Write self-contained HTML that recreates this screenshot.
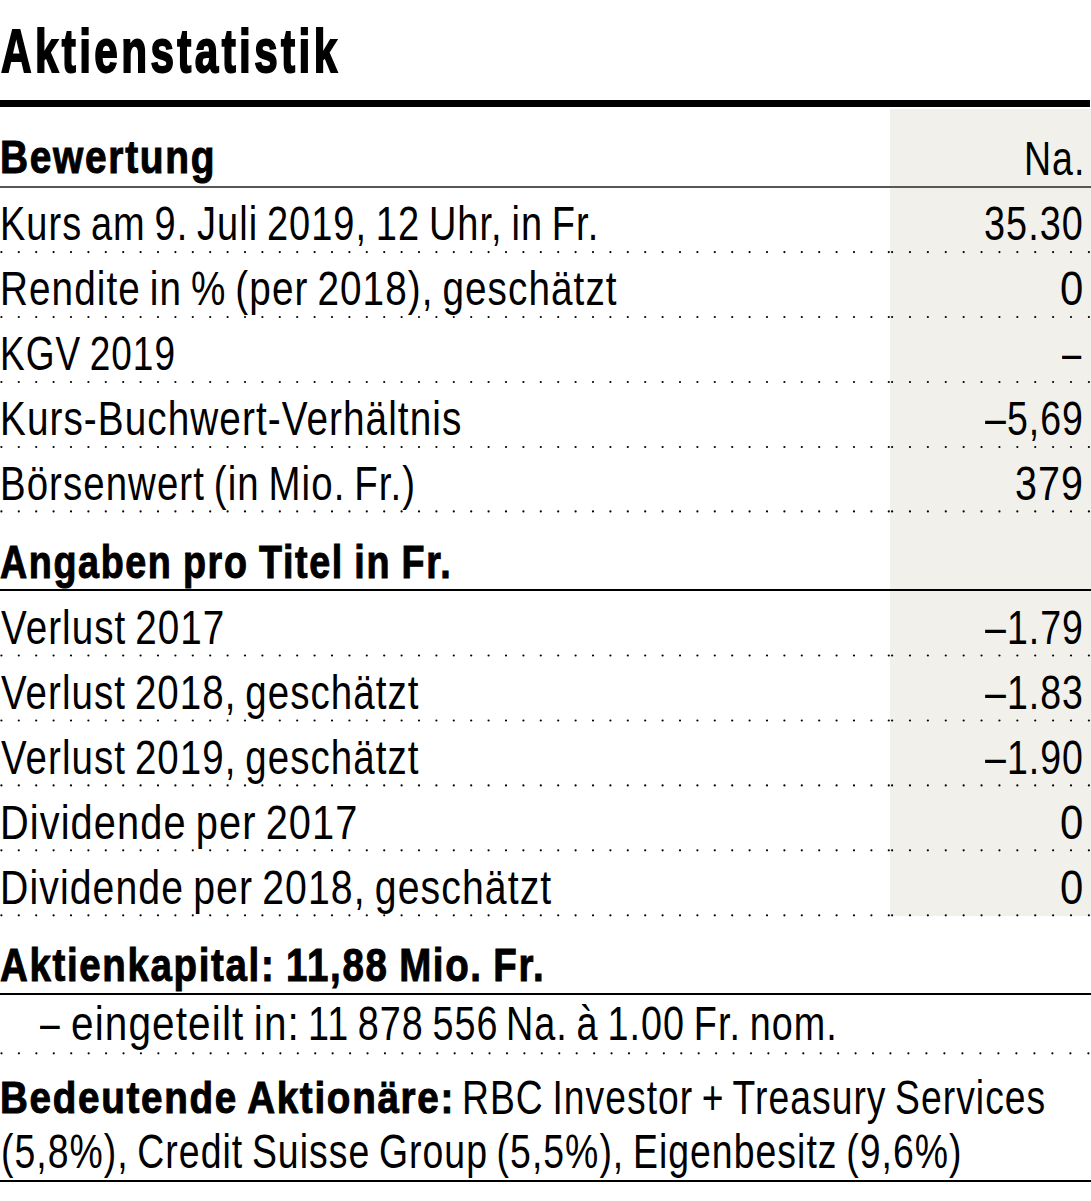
<!DOCTYPE html>
<html><head><meta charset="utf-8"><style>
html,body{margin:0;padding:0;background:#fff;}
body{width:1091px;height:1201px;position:relative;overflow:hidden;font-family:"Liberation Sans",sans-serif;color:#000;}
.t{position:absolute;white-space:pre;line-height:0;transform-origin:0 0;}
.r{position:absolute;}
</style></head><body>
<div class="r" style="left:890px;top:109px;width:201px;height:807px;background:#f1f0eb"></div>
<div class="r" style="left:0;top:100px;width:1090px;height:7px;background:#000"></div>
<div class="r" style="left:0;top:186px;width:1091px;height:2px;background:#575757"></div>
<div class="r" style="left:0;top:589.4px;width:1091px;height:1.6px;background:#000"></div>
<div class="r" style="left:0;top:993px;width:1091px;height:2px;background:#000"></div>
<div class="r" style="left:0;top:1180px;width:1091px;height:2px;background:#000"></div>
<svg width="1091" height="1201" style="position:absolute;left:0;top:0">
<g fill="#000"><circle cx="1.40" cy="252.1" r="1.1"/><circle cx="18.80" cy="252.1" r="1.1"/><circle cx="36.20" cy="252.1" r="1.1"/><circle cx="53.60" cy="252.1" r="1.1"/><circle cx="71.00" cy="252.1" r="1.1"/><circle cx="88.40" cy="252.1" r="1.1"/><circle cx="105.80" cy="252.1" r="1.1"/><circle cx="123.20" cy="252.1" r="1.1"/><circle cx="140.60" cy="252.1" r="1.1"/><circle cx="158.00" cy="252.1" r="1.1"/><circle cx="175.40" cy="252.1" r="1.1"/><circle cx="192.80" cy="252.1" r="1.1"/><circle cx="210.20" cy="252.1" r="1.1"/><circle cx="227.60" cy="252.1" r="1.1"/><circle cx="245.00" cy="252.1" r="1.1"/><circle cx="262.40" cy="252.1" r="1.1"/><circle cx="279.80" cy="252.1" r="1.1"/><circle cx="297.20" cy="252.1" r="1.1"/><circle cx="314.60" cy="252.1" r="1.1"/><circle cx="332.00" cy="252.1" r="1.1"/><circle cx="349.40" cy="252.1" r="1.1"/><circle cx="366.80" cy="252.1" r="1.1"/><circle cx="384.20" cy="252.1" r="1.1"/><circle cx="401.60" cy="252.1" r="1.1"/><circle cx="419.00" cy="252.1" r="1.1"/><circle cx="436.40" cy="252.1" r="1.1"/><circle cx="453.80" cy="252.1" r="1.1"/><circle cx="471.20" cy="252.1" r="1.1"/><circle cx="488.60" cy="252.1" r="1.1"/><circle cx="506.00" cy="252.1" r="1.1"/><circle cx="523.40" cy="252.1" r="1.1"/><circle cx="540.80" cy="252.1" r="1.1"/><circle cx="558.20" cy="252.1" r="1.1"/><circle cx="575.60" cy="252.1" r="1.1"/><circle cx="593.00" cy="252.1" r="1.1"/><circle cx="610.40" cy="252.1" r="1.1"/><circle cx="627.80" cy="252.1" r="1.1"/><circle cx="645.20" cy="252.1" r="1.1"/><circle cx="662.60" cy="252.1" r="1.1"/><circle cx="680.00" cy="252.1" r="1.1"/><circle cx="697.40" cy="252.1" r="1.1"/><circle cx="714.80" cy="252.1" r="1.1"/><circle cx="732.20" cy="252.1" r="1.1"/><circle cx="749.60" cy="252.1" r="1.1"/><circle cx="767.00" cy="252.1" r="1.1"/><circle cx="784.40" cy="252.1" r="1.1"/><circle cx="801.80" cy="252.1" r="1.1"/><circle cx="819.20" cy="252.1" r="1.1"/><circle cx="836.60" cy="252.1" r="1.1"/><circle cx="854.00" cy="252.1" r="1.1"/><circle cx="871.40" cy="252.1" r="1.1"/><circle cx="888.80" cy="252.1" r="1.1"/><circle cx="892.10" cy="252.1" r="1.1"/><circle cx="909.99" cy="252.1" r="1.1"/><circle cx="927.88" cy="252.1" r="1.1"/><circle cx="945.77" cy="252.1" r="1.1"/><circle cx="963.66" cy="252.1" r="1.1"/><circle cx="981.55" cy="252.1" r="1.1"/><circle cx="999.44" cy="252.1" r="1.1"/><circle cx="1017.33" cy="252.1" r="1.1"/><circle cx="1035.22" cy="252.1" r="1.1"/><circle cx="1053.11" cy="252.1" r="1.1"/><circle cx="1071.00" cy="252.1" r="1.1"/><circle cx="1088.89" cy="252.1" r="1.1"/></g>
<g fill="#000"><circle cx="1.40" cy="317" r="1.1"/><circle cx="18.80" cy="317" r="1.1"/><circle cx="36.20" cy="317" r="1.1"/><circle cx="53.60" cy="317" r="1.1"/><circle cx="71.00" cy="317" r="1.1"/><circle cx="88.40" cy="317" r="1.1"/><circle cx="105.80" cy="317" r="1.1"/><circle cx="123.20" cy="317" r="1.1"/><circle cx="140.60" cy="317" r="1.1"/><circle cx="158.00" cy="317" r="1.1"/><circle cx="175.40" cy="317" r="1.1"/><circle cx="192.80" cy="317" r="1.1"/><circle cx="210.20" cy="317" r="1.1"/><circle cx="227.60" cy="317" r="1.1"/><circle cx="245.00" cy="317" r="1.1"/><circle cx="262.40" cy="317" r="1.1"/><circle cx="279.80" cy="317" r="1.1"/><circle cx="297.20" cy="317" r="1.1"/><circle cx="314.60" cy="317" r="1.1"/><circle cx="332.00" cy="317" r="1.1"/><circle cx="349.40" cy="317" r="1.1"/><circle cx="366.80" cy="317" r="1.1"/><circle cx="384.20" cy="317" r="1.1"/><circle cx="401.60" cy="317" r="1.1"/><circle cx="419.00" cy="317" r="1.1"/><circle cx="436.40" cy="317" r="1.1"/><circle cx="453.80" cy="317" r="1.1"/><circle cx="471.20" cy="317" r="1.1"/><circle cx="488.60" cy="317" r="1.1"/><circle cx="506.00" cy="317" r="1.1"/><circle cx="523.40" cy="317" r="1.1"/><circle cx="540.80" cy="317" r="1.1"/><circle cx="558.20" cy="317" r="1.1"/><circle cx="575.60" cy="317" r="1.1"/><circle cx="593.00" cy="317" r="1.1"/><circle cx="610.40" cy="317" r="1.1"/><circle cx="627.80" cy="317" r="1.1"/><circle cx="645.20" cy="317" r="1.1"/><circle cx="662.60" cy="317" r="1.1"/><circle cx="680.00" cy="317" r="1.1"/><circle cx="697.40" cy="317" r="1.1"/><circle cx="714.80" cy="317" r="1.1"/><circle cx="732.20" cy="317" r="1.1"/><circle cx="749.60" cy="317" r="1.1"/><circle cx="767.00" cy="317" r="1.1"/><circle cx="784.40" cy="317" r="1.1"/><circle cx="801.80" cy="317" r="1.1"/><circle cx="819.20" cy="317" r="1.1"/><circle cx="836.60" cy="317" r="1.1"/><circle cx="854.00" cy="317" r="1.1"/><circle cx="871.40" cy="317" r="1.1"/><circle cx="888.80" cy="317" r="1.1"/><circle cx="892.10" cy="317" r="1.1"/><circle cx="909.99" cy="317" r="1.1"/><circle cx="927.88" cy="317" r="1.1"/><circle cx="945.77" cy="317" r="1.1"/><circle cx="963.66" cy="317" r="1.1"/><circle cx="981.55" cy="317" r="1.1"/><circle cx="999.44" cy="317" r="1.1"/><circle cx="1017.33" cy="317" r="1.1"/><circle cx="1035.22" cy="317" r="1.1"/><circle cx="1053.11" cy="317" r="1.1"/><circle cx="1071.00" cy="317" r="1.1"/><circle cx="1088.89" cy="317" r="1.1"/></g>
<g fill="#000"><circle cx="1.40" cy="382" r="1.1"/><circle cx="18.80" cy="382" r="1.1"/><circle cx="36.20" cy="382" r="1.1"/><circle cx="53.60" cy="382" r="1.1"/><circle cx="71.00" cy="382" r="1.1"/><circle cx="88.40" cy="382" r="1.1"/><circle cx="105.80" cy="382" r="1.1"/><circle cx="123.20" cy="382" r="1.1"/><circle cx="140.60" cy="382" r="1.1"/><circle cx="158.00" cy="382" r="1.1"/><circle cx="175.40" cy="382" r="1.1"/><circle cx="192.80" cy="382" r="1.1"/><circle cx="210.20" cy="382" r="1.1"/><circle cx="227.60" cy="382" r="1.1"/><circle cx="245.00" cy="382" r="1.1"/><circle cx="262.40" cy="382" r="1.1"/><circle cx="279.80" cy="382" r="1.1"/><circle cx="297.20" cy="382" r="1.1"/><circle cx="314.60" cy="382" r="1.1"/><circle cx="332.00" cy="382" r="1.1"/><circle cx="349.40" cy="382" r="1.1"/><circle cx="366.80" cy="382" r="1.1"/><circle cx="384.20" cy="382" r="1.1"/><circle cx="401.60" cy="382" r="1.1"/><circle cx="419.00" cy="382" r="1.1"/><circle cx="436.40" cy="382" r="1.1"/><circle cx="453.80" cy="382" r="1.1"/><circle cx="471.20" cy="382" r="1.1"/><circle cx="488.60" cy="382" r="1.1"/><circle cx="506.00" cy="382" r="1.1"/><circle cx="523.40" cy="382" r="1.1"/><circle cx="540.80" cy="382" r="1.1"/><circle cx="558.20" cy="382" r="1.1"/><circle cx="575.60" cy="382" r="1.1"/><circle cx="593.00" cy="382" r="1.1"/><circle cx="610.40" cy="382" r="1.1"/><circle cx="627.80" cy="382" r="1.1"/><circle cx="645.20" cy="382" r="1.1"/><circle cx="662.60" cy="382" r="1.1"/><circle cx="680.00" cy="382" r="1.1"/><circle cx="697.40" cy="382" r="1.1"/><circle cx="714.80" cy="382" r="1.1"/><circle cx="732.20" cy="382" r="1.1"/><circle cx="749.60" cy="382" r="1.1"/><circle cx="767.00" cy="382" r="1.1"/><circle cx="784.40" cy="382" r="1.1"/><circle cx="801.80" cy="382" r="1.1"/><circle cx="819.20" cy="382" r="1.1"/><circle cx="836.60" cy="382" r="1.1"/><circle cx="854.00" cy="382" r="1.1"/><circle cx="871.40" cy="382" r="1.1"/><circle cx="888.80" cy="382" r="1.1"/><circle cx="892.10" cy="382" r="1.1"/><circle cx="909.99" cy="382" r="1.1"/><circle cx="927.88" cy="382" r="1.1"/><circle cx="945.77" cy="382" r="1.1"/><circle cx="963.66" cy="382" r="1.1"/><circle cx="981.55" cy="382" r="1.1"/><circle cx="999.44" cy="382" r="1.1"/><circle cx="1017.33" cy="382" r="1.1"/><circle cx="1035.22" cy="382" r="1.1"/><circle cx="1053.11" cy="382" r="1.1"/><circle cx="1071.00" cy="382" r="1.1"/><circle cx="1088.89" cy="382" r="1.1"/></g>
<g fill="#000"><circle cx="1.40" cy="447" r="1.1"/><circle cx="18.80" cy="447" r="1.1"/><circle cx="36.20" cy="447" r="1.1"/><circle cx="53.60" cy="447" r="1.1"/><circle cx="71.00" cy="447" r="1.1"/><circle cx="88.40" cy="447" r="1.1"/><circle cx="105.80" cy="447" r="1.1"/><circle cx="123.20" cy="447" r="1.1"/><circle cx="140.60" cy="447" r="1.1"/><circle cx="158.00" cy="447" r="1.1"/><circle cx="175.40" cy="447" r="1.1"/><circle cx="192.80" cy="447" r="1.1"/><circle cx="210.20" cy="447" r="1.1"/><circle cx="227.60" cy="447" r="1.1"/><circle cx="245.00" cy="447" r="1.1"/><circle cx="262.40" cy="447" r="1.1"/><circle cx="279.80" cy="447" r="1.1"/><circle cx="297.20" cy="447" r="1.1"/><circle cx="314.60" cy="447" r="1.1"/><circle cx="332.00" cy="447" r="1.1"/><circle cx="349.40" cy="447" r="1.1"/><circle cx="366.80" cy="447" r="1.1"/><circle cx="384.20" cy="447" r="1.1"/><circle cx="401.60" cy="447" r="1.1"/><circle cx="419.00" cy="447" r="1.1"/><circle cx="436.40" cy="447" r="1.1"/><circle cx="453.80" cy="447" r="1.1"/><circle cx="471.20" cy="447" r="1.1"/><circle cx="488.60" cy="447" r="1.1"/><circle cx="506.00" cy="447" r="1.1"/><circle cx="523.40" cy="447" r="1.1"/><circle cx="540.80" cy="447" r="1.1"/><circle cx="558.20" cy="447" r="1.1"/><circle cx="575.60" cy="447" r="1.1"/><circle cx="593.00" cy="447" r="1.1"/><circle cx="610.40" cy="447" r="1.1"/><circle cx="627.80" cy="447" r="1.1"/><circle cx="645.20" cy="447" r="1.1"/><circle cx="662.60" cy="447" r="1.1"/><circle cx="680.00" cy="447" r="1.1"/><circle cx="697.40" cy="447" r="1.1"/><circle cx="714.80" cy="447" r="1.1"/><circle cx="732.20" cy="447" r="1.1"/><circle cx="749.60" cy="447" r="1.1"/><circle cx="767.00" cy="447" r="1.1"/><circle cx="784.40" cy="447" r="1.1"/><circle cx="801.80" cy="447" r="1.1"/><circle cx="819.20" cy="447" r="1.1"/><circle cx="836.60" cy="447" r="1.1"/><circle cx="854.00" cy="447" r="1.1"/><circle cx="871.40" cy="447" r="1.1"/><circle cx="888.80" cy="447" r="1.1"/><circle cx="892.10" cy="447" r="1.1"/><circle cx="909.99" cy="447" r="1.1"/><circle cx="927.88" cy="447" r="1.1"/><circle cx="945.77" cy="447" r="1.1"/><circle cx="963.66" cy="447" r="1.1"/><circle cx="981.55" cy="447" r="1.1"/><circle cx="999.44" cy="447" r="1.1"/><circle cx="1017.33" cy="447" r="1.1"/><circle cx="1035.22" cy="447" r="1.1"/><circle cx="1053.11" cy="447" r="1.1"/><circle cx="1071.00" cy="447" r="1.1"/><circle cx="1088.89" cy="447" r="1.1"/></g>
<g fill="#000"><circle cx="1.40" cy="511.4" r="1.1"/><circle cx="18.80" cy="511.4" r="1.1"/><circle cx="36.20" cy="511.4" r="1.1"/><circle cx="53.60" cy="511.4" r="1.1"/><circle cx="71.00" cy="511.4" r="1.1"/><circle cx="88.40" cy="511.4" r="1.1"/><circle cx="105.80" cy="511.4" r="1.1"/><circle cx="123.20" cy="511.4" r="1.1"/><circle cx="140.60" cy="511.4" r="1.1"/><circle cx="158.00" cy="511.4" r="1.1"/><circle cx="175.40" cy="511.4" r="1.1"/><circle cx="192.80" cy="511.4" r="1.1"/><circle cx="210.20" cy="511.4" r="1.1"/><circle cx="227.60" cy="511.4" r="1.1"/><circle cx="245.00" cy="511.4" r="1.1"/><circle cx="262.40" cy="511.4" r="1.1"/><circle cx="279.80" cy="511.4" r="1.1"/><circle cx="297.20" cy="511.4" r="1.1"/><circle cx="314.60" cy="511.4" r="1.1"/><circle cx="332.00" cy="511.4" r="1.1"/><circle cx="349.40" cy="511.4" r="1.1"/><circle cx="366.80" cy="511.4" r="1.1"/><circle cx="384.20" cy="511.4" r="1.1"/><circle cx="401.60" cy="511.4" r="1.1"/><circle cx="419.00" cy="511.4" r="1.1"/><circle cx="436.40" cy="511.4" r="1.1"/><circle cx="453.80" cy="511.4" r="1.1"/><circle cx="471.20" cy="511.4" r="1.1"/><circle cx="488.60" cy="511.4" r="1.1"/><circle cx="506.00" cy="511.4" r="1.1"/><circle cx="523.40" cy="511.4" r="1.1"/><circle cx="540.80" cy="511.4" r="1.1"/><circle cx="558.20" cy="511.4" r="1.1"/><circle cx="575.60" cy="511.4" r="1.1"/><circle cx="593.00" cy="511.4" r="1.1"/><circle cx="610.40" cy="511.4" r="1.1"/><circle cx="627.80" cy="511.4" r="1.1"/><circle cx="645.20" cy="511.4" r="1.1"/><circle cx="662.60" cy="511.4" r="1.1"/><circle cx="680.00" cy="511.4" r="1.1"/><circle cx="697.40" cy="511.4" r="1.1"/><circle cx="714.80" cy="511.4" r="1.1"/><circle cx="732.20" cy="511.4" r="1.1"/><circle cx="749.60" cy="511.4" r="1.1"/><circle cx="767.00" cy="511.4" r="1.1"/><circle cx="784.40" cy="511.4" r="1.1"/><circle cx="801.80" cy="511.4" r="1.1"/><circle cx="819.20" cy="511.4" r="1.1"/><circle cx="836.60" cy="511.4" r="1.1"/><circle cx="854.00" cy="511.4" r="1.1"/><circle cx="871.40" cy="511.4" r="1.1"/><circle cx="888.80" cy="511.4" r="1.1"/><circle cx="892.10" cy="511.4" r="1.1"/><circle cx="909.99" cy="511.4" r="1.1"/><circle cx="927.88" cy="511.4" r="1.1"/><circle cx="945.77" cy="511.4" r="1.1"/><circle cx="963.66" cy="511.4" r="1.1"/><circle cx="981.55" cy="511.4" r="1.1"/><circle cx="999.44" cy="511.4" r="1.1"/><circle cx="1017.33" cy="511.4" r="1.1"/><circle cx="1035.22" cy="511.4" r="1.1"/><circle cx="1053.11" cy="511.4" r="1.1"/><circle cx="1071.00" cy="511.4" r="1.1"/><circle cx="1088.89" cy="511.4" r="1.1"/></g>
<g fill="#000"><circle cx="1.40" cy="655.5" r="1.1"/><circle cx="18.80" cy="655.5" r="1.1"/><circle cx="36.20" cy="655.5" r="1.1"/><circle cx="53.60" cy="655.5" r="1.1"/><circle cx="71.00" cy="655.5" r="1.1"/><circle cx="88.40" cy="655.5" r="1.1"/><circle cx="105.80" cy="655.5" r="1.1"/><circle cx="123.20" cy="655.5" r="1.1"/><circle cx="140.60" cy="655.5" r="1.1"/><circle cx="158.00" cy="655.5" r="1.1"/><circle cx="175.40" cy="655.5" r="1.1"/><circle cx="192.80" cy="655.5" r="1.1"/><circle cx="210.20" cy="655.5" r="1.1"/><circle cx="227.60" cy="655.5" r="1.1"/><circle cx="245.00" cy="655.5" r="1.1"/><circle cx="262.40" cy="655.5" r="1.1"/><circle cx="279.80" cy="655.5" r="1.1"/><circle cx="297.20" cy="655.5" r="1.1"/><circle cx="314.60" cy="655.5" r="1.1"/><circle cx="332.00" cy="655.5" r="1.1"/><circle cx="349.40" cy="655.5" r="1.1"/><circle cx="366.80" cy="655.5" r="1.1"/><circle cx="384.20" cy="655.5" r="1.1"/><circle cx="401.60" cy="655.5" r="1.1"/><circle cx="419.00" cy="655.5" r="1.1"/><circle cx="436.40" cy="655.5" r="1.1"/><circle cx="453.80" cy="655.5" r="1.1"/><circle cx="471.20" cy="655.5" r="1.1"/><circle cx="488.60" cy="655.5" r="1.1"/><circle cx="506.00" cy="655.5" r="1.1"/><circle cx="523.40" cy="655.5" r="1.1"/><circle cx="540.80" cy="655.5" r="1.1"/><circle cx="558.20" cy="655.5" r="1.1"/><circle cx="575.60" cy="655.5" r="1.1"/><circle cx="593.00" cy="655.5" r="1.1"/><circle cx="610.40" cy="655.5" r="1.1"/><circle cx="627.80" cy="655.5" r="1.1"/><circle cx="645.20" cy="655.5" r="1.1"/><circle cx="662.60" cy="655.5" r="1.1"/><circle cx="680.00" cy="655.5" r="1.1"/><circle cx="697.40" cy="655.5" r="1.1"/><circle cx="714.80" cy="655.5" r="1.1"/><circle cx="732.20" cy="655.5" r="1.1"/><circle cx="749.60" cy="655.5" r="1.1"/><circle cx="767.00" cy="655.5" r="1.1"/><circle cx="784.40" cy="655.5" r="1.1"/><circle cx="801.80" cy="655.5" r="1.1"/><circle cx="819.20" cy="655.5" r="1.1"/><circle cx="836.60" cy="655.5" r="1.1"/><circle cx="854.00" cy="655.5" r="1.1"/><circle cx="871.40" cy="655.5" r="1.1"/><circle cx="888.80" cy="655.5" r="1.1"/><circle cx="892.10" cy="655.5" r="1.1"/><circle cx="909.99" cy="655.5" r="1.1"/><circle cx="927.88" cy="655.5" r="1.1"/><circle cx="945.77" cy="655.5" r="1.1"/><circle cx="963.66" cy="655.5" r="1.1"/><circle cx="981.55" cy="655.5" r="1.1"/><circle cx="999.44" cy="655.5" r="1.1"/><circle cx="1017.33" cy="655.5" r="1.1"/><circle cx="1035.22" cy="655.5" r="1.1"/><circle cx="1053.11" cy="655.5" r="1.1"/><circle cx="1071.00" cy="655.5" r="1.1"/><circle cx="1088.89" cy="655.5" r="1.1"/></g>
<g fill="#000"><circle cx="1.40" cy="720.5" r="1.1"/><circle cx="18.80" cy="720.5" r="1.1"/><circle cx="36.20" cy="720.5" r="1.1"/><circle cx="53.60" cy="720.5" r="1.1"/><circle cx="71.00" cy="720.5" r="1.1"/><circle cx="88.40" cy="720.5" r="1.1"/><circle cx="105.80" cy="720.5" r="1.1"/><circle cx="123.20" cy="720.5" r="1.1"/><circle cx="140.60" cy="720.5" r="1.1"/><circle cx="158.00" cy="720.5" r="1.1"/><circle cx="175.40" cy="720.5" r="1.1"/><circle cx="192.80" cy="720.5" r="1.1"/><circle cx="210.20" cy="720.5" r="1.1"/><circle cx="227.60" cy="720.5" r="1.1"/><circle cx="245.00" cy="720.5" r="1.1"/><circle cx="262.40" cy="720.5" r="1.1"/><circle cx="279.80" cy="720.5" r="1.1"/><circle cx="297.20" cy="720.5" r="1.1"/><circle cx="314.60" cy="720.5" r="1.1"/><circle cx="332.00" cy="720.5" r="1.1"/><circle cx="349.40" cy="720.5" r="1.1"/><circle cx="366.80" cy="720.5" r="1.1"/><circle cx="384.20" cy="720.5" r="1.1"/><circle cx="401.60" cy="720.5" r="1.1"/><circle cx="419.00" cy="720.5" r="1.1"/><circle cx="436.40" cy="720.5" r="1.1"/><circle cx="453.80" cy="720.5" r="1.1"/><circle cx="471.20" cy="720.5" r="1.1"/><circle cx="488.60" cy="720.5" r="1.1"/><circle cx="506.00" cy="720.5" r="1.1"/><circle cx="523.40" cy="720.5" r="1.1"/><circle cx="540.80" cy="720.5" r="1.1"/><circle cx="558.20" cy="720.5" r="1.1"/><circle cx="575.60" cy="720.5" r="1.1"/><circle cx="593.00" cy="720.5" r="1.1"/><circle cx="610.40" cy="720.5" r="1.1"/><circle cx="627.80" cy="720.5" r="1.1"/><circle cx="645.20" cy="720.5" r="1.1"/><circle cx="662.60" cy="720.5" r="1.1"/><circle cx="680.00" cy="720.5" r="1.1"/><circle cx="697.40" cy="720.5" r="1.1"/><circle cx="714.80" cy="720.5" r="1.1"/><circle cx="732.20" cy="720.5" r="1.1"/><circle cx="749.60" cy="720.5" r="1.1"/><circle cx="767.00" cy="720.5" r="1.1"/><circle cx="784.40" cy="720.5" r="1.1"/><circle cx="801.80" cy="720.5" r="1.1"/><circle cx="819.20" cy="720.5" r="1.1"/><circle cx="836.60" cy="720.5" r="1.1"/><circle cx="854.00" cy="720.5" r="1.1"/><circle cx="871.40" cy="720.5" r="1.1"/><circle cx="888.80" cy="720.5" r="1.1"/><circle cx="892.10" cy="720.5" r="1.1"/><circle cx="909.99" cy="720.5" r="1.1"/><circle cx="927.88" cy="720.5" r="1.1"/><circle cx="945.77" cy="720.5" r="1.1"/><circle cx="963.66" cy="720.5" r="1.1"/><circle cx="981.55" cy="720.5" r="1.1"/><circle cx="999.44" cy="720.5" r="1.1"/><circle cx="1017.33" cy="720.5" r="1.1"/><circle cx="1035.22" cy="720.5" r="1.1"/><circle cx="1053.11" cy="720.5" r="1.1"/><circle cx="1071.00" cy="720.5" r="1.1"/><circle cx="1088.89" cy="720.5" r="1.1"/></g>
<g fill="#000"><circle cx="1.40" cy="785.4" r="1.1"/><circle cx="18.80" cy="785.4" r="1.1"/><circle cx="36.20" cy="785.4" r="1.1"/><circle cx="53.60" cy="785.4" r="1.1"/><circle cx="71.00" cy="785.4" r="1.1"/><circle cx="88.40" cy="785.4" r="1.1"/><circle cx="105.80" cy="785.4" r="1.1"/><circle cx="123.20" cy="785.4" r="1.1"/><circle cx="140.60" cy="785.4" r="1.1"/><circle cx="158.00" cy="785.4" r="1.1"/><circle cx="175.40" cy="785.4" r="1.1"/><circle cx="192.80" cy="785.4" r="1.1"/><circle cx="210.20" cy="785.4" r="1.1"/><circle cx="227.60" cy="785.4" r="1.1"/><circle cx="245.00" cy="785.4" r="1.1"/><circle cx="262.40" cy="785.4" r="1.1"/><circle cx="279.80" cy="785.4" r="1.1"/><circle cx="297.20" cy="785.4" r="1.1"/><circle cx="314.60" cy="785.4" r="1.1"/><circle cx="332.00" cy="785.4" r="1.1"/><circle cx="349.40" cy="785.4" r="1.1"/><circle cx="366.80" cy="785.4" r="1.1"/><circle cx="384.20" cy="785.4" r="1.1"/><circle cx="401.60" cy="785.4" r="1.1"/><circle cx="419.00" cy="785.4" r="1.1"/><circle cx="436.40" cy="785.4" r="1.1"/><circle cx="453.80" cy="785.4" r="1.1"/><circle cx="471.20" cy="785.4" r="1.1"/><circle cx="488.60" cy="785.4" r="1.1"/><circle cx="506.00" cy="785.4" r="1.1"/><circle cx="523.40" cy="785.4" r="1.1"/><circle cx="540.80" cy="785.4" r="1.1"/><circle cx="558.20" cy="785.4" r="1.1"/><circle cx="575.60" cy="785.4" r="1.1"/><circle cx="593.00" cy="785.4" r="1.1"/><circle cx="610.40" cy="785.4" r="1.1"/><circle cx="627.80" cy="785.4" r="1.1"/><circle cx="645.20" cy="785.4" r="1.1"/><circle cx="662.60" cy="785.4" r="1.1"/><circle cx="680.00" cy="785.4" r="1.1"/><circle cx="697.40" cy="785.4" r="1.1"/><circle cx="714.80" cy="785.4" r="1.1"/><circle cx="732.20" cy="785.4" r="1.1"/><circle cx="749.60" cy="785.4" r="1.1"/><circle cx="767.00" cy="785.4" r="1.1"/><circle cx="784.40" cy="785.4" r="1.1"/><circle cx="801.80" cy="785.4" r="1.1"/><circle cx="819.20" cy="785.4" r="1.1"/><circle cx="836.60" cy="785.4" r="1.1"/><circle cx="854.00" cy="785.4" r="1.1"/><circle cx="871.40" cy="785.4" r="1.1"/><circle cx="888.80" cy="785.4" r="1.1"/><circle cx="892.10" cy="785.4" r="1.1"/><circle cx="909.99" cy="785.4" r="1.1"/><circle cx="927.88" cy="785.4" r="1.1"/><circle cx="945.77" cy="785.4" r="1.1"/><circle cx="963.66" cy="785.4" r="1.1"/><circle cx="981.55" cy="785.4" r="1.1"/><circle cx="999.44" cy="785.4" r="1.1"/><circle cx="1017.33" cy="785.4" r="1.1"/><circle cx="1035.22" cy="785.4" r="1.1"/><circle cx="1053.11" cy="785.4" r="1.1"/><circle cx="1071.00" cy="785.4" r="1.1"/><circle cx="1088.89" cy="785.4" r="1.1"/></g>
<g fill="#000"><circle cx="1.40" cy="850.3" r="1.1"/><circle cx="18.80" cy="850.3" r="1.1"/><circle cx="36.20" cy="850.3" r="1.1"/><circle cx="53.60" cy="850.3" r="1.1"/><circle cx="71.00" cy="850.3" r="1.1"/><circle cx="88.40" cy="850.3" r="1.1"/><circle cx="105.80" cy="850.3" r="1.1"/><circle cx="123.20" cy="850.3" r="1.1"/><circle cx="140.60" cy="850.3" r="1.1"/><circle cx="158.00" cy="850.3" r="1.1"/><circle cx="175.40" cy="850.3" r="1.1"/><circle cx="192.80" cy="850.3" r="1.1"/><circle cx="210.20" cy="850.3" r="1.1"/><circle cx="227.60" cy="850.3" r="1.1"/><circle cx="245.00" cy="850.3" r="1.1"/><circle cx="262.40" cy="850.3" r="1.1"/><circle cx="279.80" cy="850.3" r="1.1"/><circle cx="297.20" cy="850.3" r="1.1"/><circle cx="314.60" cy="850.3" r="1.1"/><circle cx="332.00" cy="850.3" r="1.1"/><circle cx="349.40" cy="850.3" r="1.1"/><circle cx="366.80" cy="850.3" r="1.1"/><circle cx="384.20" cy="850.3" r="1.1"/><circle cx="401.60" cy="850.3" r="1.1"/><circle cx="419.00" cy="850.3" r="1.1"/><circle cx="436.40" cy="850.3" r="1.1"/><circle cx="453.80" cy="850.3" r="1.1"/><circle cx="471.20" cy="850.3" r="1.1"/><circle cx="488.60" cy="850.3" r="1.1"/><circle cx="506.00" cy="850.3" r="1.1"/><circle cx="523.40" cy="850.3" r="1.1"/><circle cx="540.80" cy="850.3" r="1.1"/><circle cx="558.20" cy="850.3" r="1.1"/><circle cx="575.60" cy="850.3" r="1.1"/><circle cx="593.00" cy="850.3" r="1.1"/><circle cx="610.40" cy="850.3" r="1.1"/><circle cx="627.80" cy="850.3" r="1.1"/><circle cx="645.20" cy="850.3" r="1.1"/><circle cx="662.60" cy="850.3" r="1.1"/><circle cx="680.00" cy="850.3" r="1.1"/><circle cx="697.40" cy="850.3" r="1.1"/><circle cx="714.80" cy="850.3" r="1.1"/><circle cx="732.20" cy="850.3" r="1.1"/><circle cx="749.60" cy="850.3" r="1.1"/><circle cx="767.00" cy="850.3" r="1.1"/><circle cx="784.40" cy="850.3" r="1.1"/><circle cx="801.80" cy="850.3" r="1.1"/><circle cx="819.20" cy="850.3" r="1.1"/><circle cx="836.60" cy="850.3" r="1.1"/><circle cx="854.00" cy="850.3" r="1.1"/><circle cx="871.40" cy="850.3" r="1.1"/><circle cx="888.80" cy="850.3" r="1.1"/><circle cx="892.10" cy="850.3" r="1.1"/><circle cx="909.99" cy="850.3" r="1.1"/><circle cx="927.88" cy="850.3" r="1.1"/><circle cx="945.77" cy="850.3" r="1.1"/><circle cx="963.66" cy="850.3" r="1.1"/><circle cx="981.55" cy="850.3" r="1.1"/><circle cx="999.44" cy="850.3" r="1.1"/><circle cx="1017.33" cy="850.3" r="1.1"/><circle cx="1035.22" cy="850.3" r="1.1"/><circle cx="1053.11" cy="850.3" r="1.1"/><circle cx="1071.00" cy="850.3" r="1.1"/><circle cx="1088.89" cy="850.3" r="1.1"/></g>
<g fill="#000"><circle cx="1.40" cy="915.3" r="1.1"/><circle cx="18.80" cy="915.3" r="1.1"/><circle cx="36.20" cy="915.3" r="1.1"/><circle cx="53.60" cy="915.3" r="1.1"/><circle cx="71.00" cy="915.3" r="1.1"/><circle cx="88.40" cy="915.3" r="1.1"/><circle cx="105.80" cy="915.3" r="1.1"/><circle cx="123.20" cy="915.3" r="1.1"/><circle cx="140.60" cy="915.3" r="1.1"/><circle cx="158.00" cy="915.3" r="1.1"/><circle cx="175.40" cy="915.3" r="1.1"/><circle cx="192.80" cy="915.3" r="1.1"/><circle cx="210.20" cy="915.3" r="1.1"/><circle cx="227.60" cy="915.3" r="1.1"/><circle cx="245.00" cy="915.3" r="1.1"/><circle cx="262.40" cy="915.3" r="1.1"/><circle cx="279.80" cy="915.3" r="1.1"/><circle cx="297.20" cy="915.3" r="1.1"/><circle cx="314.60" cy="915.3" r="1.1"/><circle cx="332.00" cy="915.3" r="1.1"/><circle cx="349.40" cy="915.3" r="1.1"/><circle cx="366.80" cy="915.3" r="1.1"/><circle cx="384.20" cy="915.3" r="1.1"/><circle cx="401.60" cy="915.3" r="1.1"/><circle cx="419.00" cy="915.3" r="1.1"/><circle cx="436.40" cy="915.3" r="1.1"/><circle cx="453.80" cy="915.3" r="1.1"/><circle cx="471.20" cy="915.3" r="1.1"/><circle cx="488.60" cy="915.3" r="1.1"/><circle cx="506.00" cy="915.3" r="1.1"/><circle cx="523.40" cy="915.3" r="1.1"/><circle cx="540.80" cy="915.3" r="1.1"/><circle cx="558.20" cy="915.3" r="1.1"/><circle cx="575.60" cy="915.3" r="1.1"/><circle cx="593.00" cy="915.3" r="1.1"/><circle cx="610.40" cy="915.3" r="1.1"/><circle cx="627.80" cy="915.3" r="1.1"/><circle cx="645.20" cy="915.3" r="1.1"/><circle cx="662.60" cy="915.3" r="1.1"/><circle cx="680.00" cy="915.3" r="1.1"/><circle cx="697.40" cy="915.3" r="1.1"/><circle cx="714.80" cy="915.3" r="1.1"/><circle cx="732.20" cy="915.3" r="1.1"/><circle cx="749.60" cy="915.3" r="1.1"/><circle cx="767.00" cy="915.3" r="1.1"/><circle cx="784.40" cy="915.3" r="1.1"/><circle cx="801.80" cy="915.3" r="1.1"/><circle cx="819.20" cy="915.3" r="1.1"/><circle cx="836.60" cy="915.3" r="1.1"/><circle cx="854.00" cy="915.3" r="1.1"/><circle cx="871.40" cy="915.3" r="1.1"/><circle cx="888.80" cy="915.3" r="1.1"/><circle cx="892.10" cy="915.3" r="1.1"/><circle cx="909.99" cy="915.3" r="1.1"/><circle cx="927.88" cy="915.3" r="1.1"/><circle cx="945.77" cy="915.3" r="1.1"/><circle cx="963.66" cy="915.3" r="1.1"/><circle cx="981.55" cy="915.3" r="1.1"/><circle cx="999.44" cy="915.3" r="1.1"/><circle cx="1017.33" cy="915.3" r="1.1"/><circle cx="1035.22" cy="915.3" r="1.1"/><circle cx="1053.11" cy="915.3" r="1.1"/><circle cx="1071.00" cy="915.3" r="1.1"/><circle cx="1088.89" cy="915.3" r="1.1"/></g>
<g fill="#000"><circle cx="1.50" cy="1053.3" r="1.1"/><circle cx="18.93" cy="1053.3" r="1.1"/><circle cx="36.36" cy="1053.3" r="1.1"/><circle cx="53.79" cy="1053.3" r="1.1"/><circle cx="71.22" cy="1053.3" r="1.1"/><circle cx="88.65" cy="1053.3" r="1.1"/><circle cx="106.08" cy="1053.3" r="1.1"/><circle cx="123.51" cy="1053.3" r="1.1"/><circle cx="140.94" cy="1053.3" r="1.1"/><circle cx="158.37" cy="1053.3" r="1.1"/><circle cx="175.80" cy="1053.3" r="1.1"/><circle cx="193.23" cy="1053.3" r="1.1"/><circle cx="210.66" cy="1053.3" r="1.1"/><circle cx="228.09" cy="1053.3" r="1.1"/><circle cx="245.52" cy="1053.3" r="1.1"/><circle cx="262.95" cy="1053.3" r="1.1"/><circle cx="280.38" cy="1053.3" r="1.1"/><circle cx="297.81" cy="1053.3" r="1.1"/><circle cx="315.24" cy="1053.3" r="1.1"/><circle cx="332.67" cy="1053.3" r="1.1"/><circle cx="350.10" cy="1053.3" r="1.1"/><circle cx="367.53" cy="1053.3" r="1.1"/><circle cx="384.96" cy="1053.3" r="1.1"/><circle cx="402.39" cy="1053.3" r="1.1"/><circle cx="419.82" cy="1053.3" r="1.1"/><circle cx="437.25" cy="1053.3" r="1.1"/><circle cx="454.68" cy="1053.3" r="1.1"/><circle cx="472.11" cy="1053.3" r="1.1"/><circle cx="489.54" cy="1053.3" r="1.1"/><circle cx="506.97" cy="1053.3" r="1.1"/><circle cx="524.40" cy="1053.3" r="1.1"/><circle cx="541.83" cy="1053.3" r="1.1"/><circle cx="559.26" cy="1053.3" r="1.1"/><circle cx="576.69" cy="1053.3" r="1.1"/><circle cx="594.12" cy="1053.3" r="1.1"/><circle cx="611.55" cy="1053.3" r="1.1"/><circle cx="628.98" cy="1053.3" r="1.1"/><circle cx="646.41" cy="1053.3" r="1.1"/><circle cx="663.84" cy="1053.3" r="1.1"/><circle cx="681.27" cy="1053.3" r="1.1"/><circle cx="698.70" cy="1053.3" r="1.1"/><circle cx="716.13" cy="1053.3" r="1.1"/><circle cx="733.56" cy="1053.3" r="1.1"/><circle cx="750.99" cy="1053.3" r="1.1"/><circle cx="768.42" cy="1053.3" r="1.1"/><circle cx="785.85" cy="1053.3" r="1.1"/><circle cx="803.28" cy="1053.3" r="1.1"/><circle cx="820.71" cy="1053.3" r="1.1"/><circle cx="838.14" cy="1053.3" r="1.1"/><circle cx="855.57" cy="1053.3" r="1.1"/><circle cx="873.00" cy="1053.3" r="1.1"/><circle cx="890.43" cy="1053.3" r="1.1"/><circle cx="908.40" cy="1053.3" r="1.1"/><circle cx="926.40" cy="1053.3" r="1.1"/><circle cx="944.40" cy="1053.3" r="1.1"/><circle cx="962.40" cy="1053.3" r="1.1"/><circle cx="980.40" cy="1053.3" r="1.1"/><circle cx="998.40" cy="1053.3" r="1.1"/><circle cx="1016.40" cy="1053.3" r="1.1"/><circle cx="1034.40" cy="1053.3" r="1.1"/><circle cx="1052.40" cy="1053.3" r="1.1"/><circle cx="1070.40" cy="1053.3" r="1.1"/><circle cx="1088.40" cy="1053.3" r="1.1"/></g>
</svg>
<div class="t" style="left:0.75px;top:50.70px;font-size:60.465px;font-weight:700;-webkit-text-stroke:1.9px #000;letter-spacing:4.8px;transform:scaleX(0.6997)">Aktienstatistik</div>
<div class="t" style="left:0.44px;top:158.40px;font-size:45.494px;font-weight:700;-webkit-text-stroke:1.0px #000;letter-spacing:2.0px;word-spacing:-2.0px;transform:scaleX(0.8545)">Bewertung</div>
<div class="t" style="left:1024.32px;top:158.70px;font-size:47.238px;letter-spacing:1.3px;word-spacing:-3.5px;transform:scaleX(0.7941)">Na.</div>
<div class="t" style="left:-0.01px;top:224.00px;font-size:47.238px;letter-spacing:1.3px;word-spacing:-3.5px;transform:scaleX(0.8035)">Kurs am 9. Juli 2019, 12 Uhr, in Fr.</div>
<div class="t" style="left:984.10px;top:224.00px;font-size:47.238px;letter-spacing:1.3px;word-spacing:-3.5px;transform:scaleX(0.8008)">35.30</div>
<div class="t" style="left:-0.28px;top:289.00px;font-size:47.238px;letter-spacing:1.3px;word-spacing:-3.5px;transform:scaleX(0.8194)">Rendite in % (per 2018), geschätzt</div>
<div class="t" style="left:1059.73px;top:289.00px;font-size:47.238px;letter-spacing:1.3px;word-spacing:-3.5px;transform:scaleX(0.8864)">0</div>
<div class="t" style="left:0.07px;top:354.00px;font-size:47.238px;letter-spacing:1.3px;word-spacing:-3.5px;transform:scaleX(0.7829)">KGV 2019</div>
<div class="t" style="left:1062.00px;top:354.00px;font-size:47.238px;letter-spacing:1.3px;word-spacing:-3.5px;transform:scaleX(0.7308)">–</div>
<div class="t" style="left:-0.08px;top:419.00px;font-size:47.238px;letter-spacing:1.3px;word-spacing:-3.5px;transform:scaleX(0.8199)">Kurs-Buchwert-Verhältnis</div>
<div class="t" style="left:984.90px;top:419.00px;font-size:47.238px;letter-spacing:1.3px;word-spacing:-3.5px;transform:scaleX(0.7942)">–5,69</div>
<div class="t" style="left:-0.05px;top:483.50px;font-size:47.238px;letter-spacing:1.3px;word-spacing:-3.5px;transform:scaleX(0.8137)">Börsenwert (in Mio. Fr.)</div>
<div class="t" style="left:1015.13px;top:483.50px;font-size:47.238px;letter-spacing:1.3px;word-spacing:-3.5px;transform:scaleX(0.8338)">379</div>
<div class="t" style="left:0.19px;top:562.00px;font-size:46.366px;font-weight:700;-webkit-text-stroke:1.0px #000;letter-spacing:2.0px;word-spacing:-2.0px;transform:scaleX(0.8125)">Angaben pro Titel in Fr.</div>
<div class="t" style="left:0.80px;top:628.00px;font-size:47.238px;letter-spacing:1.3px;word-spacing:-3.5px;transform:scaleX(0.8170)">Verlust 2017</div>
<div class="t" style="left:984.90px;top:628.00px;font-size:47.238px;letter-spacing:1.3px;word-spacing:-3.5px;transform:scaleX(0.7942)">–1.79</div>
<div class="t" style="left:0.80px;top:693.00px;font-size:47.238px;letter-spacing:1.3px;word-spacing:-3.5px;transform:scaleX(0.8146)">Verlust 2018, geschätzt</div>
<div class="t" style="left:984.90px;top:693.00px;font-size:47.238px;letter-spacing:1.3px;word-spacing:-3.5px;transform:scaleX(0.7942)">–1.83</div>
<div class="t" style="left:0.80px;top:758.00px;font-size:47.238px;letter-spacing:1.3px;word-spacing:-3.5px;transform:scaleX(0.8146)">Verlust 2019, geschätzt</div>
<div class="t" style="left:984.90px;top:758.00px;font-size:47.238px;letter-spacing:1.3px;word-spacing:-3.5px;transform:scaleX(0.7942)">–1.90</div>
<div class="t" style="left:-0.17px;top:823.00px;font-size:47.238px;letter-spacing:1.3px;word-spacing:-3.5px;transform:scaleX(0.8416)">Dividende per 2017</div>
<div class="t" style="left:1059.73px;top:823.00px;font-size:47.238px;letter-spacing:1.3px;word-spacing:-3.5px;transform:scaleX(0.8864)">0</div>
<div class="t" style="left:-0.12px;top:888.00px;font-size:47.238px;letter-spacing:1.3px;word-spacing:-3.5px;transform:scaleX(0.8305)">Dividende per 2018, geschätzt</div>
<div class="t" style="left:1059.73px;top:888.00px;font-size:47.238px;letter-spacing:1.3px;word-spacing:-3.5px;transform:scaleX(0.8864)">0</div>
<div class="t" style="left:0.17px;top:964.60px;font-size:46.512px;font-weight:700;-webkit-text-stroke:1.0px #000;letter-spacing:2.0px;word-spacing:-2.0px;transform:scaleX(0.8272)">Aktienkapital: 11,88 Mio. Fr.</div>
<div class="t" style="left:40.00px;top:1024.20px;font-size:47.238px;letter-spacing:1.3px;word-spacing:-3.5px;transform:scaleX(0.7500)">–</div>
<div class="t" style="left:71.28px;top:1024.20px;font-size:47.238px;letter-spacing:1.3px;word-spacing:-3.5px;transform:scaleX(0.8583)">eingeteilt in:</div>
<div class="t" style="left:308.41px;top:1024.20px;font-size:47.238px;letter-spacing:1.3px;word-spacing:-3.5px;transform:scaleX(0.7987)">11 878 556</div>
<div class="t" style="left:506.20px;top:1024.20px;font-size:47.238px;letter-spacing:1.3px;word-spacing:-3.5px;transform:scaleX(0.7998)">Na. à 1.00 Fr. nom.</div>
<div class="t" style="left:0.43px;top:1098.20px;font-size:45.058px;font-weight:700;-webkit-text-stroke:1.0px #000;letter-spacing:2.0px;word-spacing:-2.0px;transform:scaleX(0.8562)">Bedeutende Aktionäre:</div>
<div class="t" style="left:461.74px;top:1098.20px;font-size:47.238px;letter-spacing:1.3px;word-spacing:-3.5px;transform:scaleX(0.7895)">RBC Investor + Treasury Services</div>
<div class="t" style="left:0.82px;top:1152.30px;font-size:47.238px;letter-spacing:1.3px;word-spacing:-3.5px;transform:scaleX(0.7917)">(5,8%), Credit Suisse Group (5,5%), Eigenbesitz (9,6%)</div>
</body></html>
